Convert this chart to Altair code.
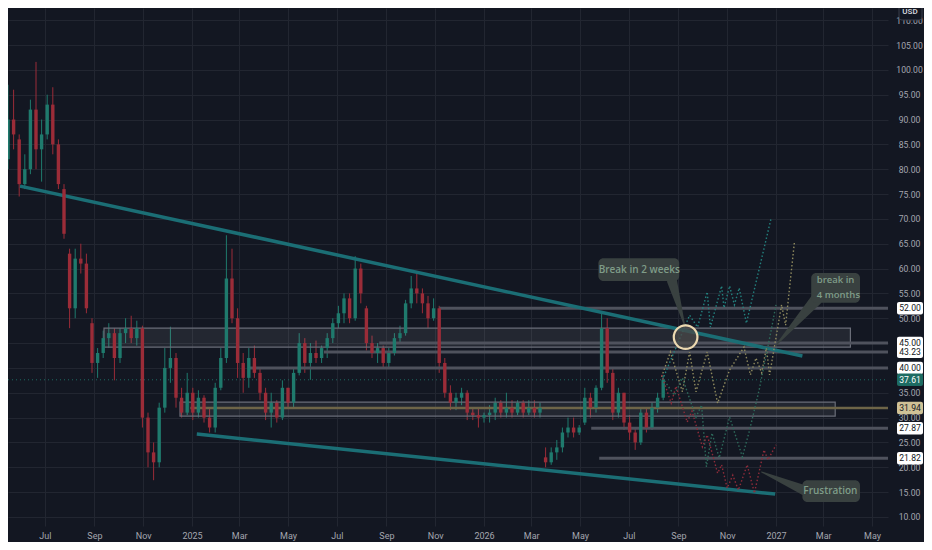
import altair as alt
import pandas as pd

BG = "#131722"
W, H = 880, 518
GRID = "#222631"
AXIS_TXT = "#a3a6af"
UP = "#1f7a6d"
DOWN = "#9b2c38"
TEAL_LINE = "#1b6e75"

# ---------------- weekly candles ----------------
first_week_mid = "2024-05-09"
opens = [84, 82, 90, 86, 77, 80, 92, 84, 87, 93, 85, 76, 63, 52, 62, 61, 49, 41, 43, 46,
         47, 42, 47, 48, 46, 48, 30, 23, 21, 32, 40, 42, 34, 31, 35, 31, 34, 30, 28, 36,
         42, 58, 50, 41, 38, 42, 39, 35, 31, 33, 30, 36, 33, 39, 45, 41, 43, 42, 44, 46,
         49, 51, 54, 50, 60, 52, 45, 43, 44, 41, 43, 46, 47, 53, 56, 55, 53, 50, 52, 41,
         35, 33, 34, 35, 31, 30.5, 30, 30.5, 31, 33, 31, 32, 31, 33, 31, 32, 31, 22, 21, 23,
         24, 27, 28, 27, 29, 34, 32, 36, 48, 39, 31, 35, 29, 27, 25, 31, 28, 32, 34]
highs = [86, 97, 96, 87, 83, 94, 101.6, 90, 95, 96.5, 86, 77, 64, 64, 65, 63, 50, 44, 47.5, 49,
         48, 48, 50, 50.5, 49.5, 48.5, 31, 25, 33, 44, 48.3, 43, 36, 39, 36, 35.5, 34.5, 32, 37, 44,
         66.7, 64, 52, 43, 44, 44.5, 40, 36, 35, 33.5, 37.5, 36, 40, 47, 46, 45, 45.5, 44.5, 47, 50,
         52.5, 55, 55, 62.5, 61, 52.5, 46.5, 45, 44.5, 44, 47, 48.5, 53.7, 58.5, 59, 56, 54.5, 54, 52.5, 42,
         36.5, 35, 36, 35.5, 32, 32, 31, 32.5, 34, 33.5, 35, 33.5, 33.5, 33.5, 33.5, 33.5, 33, 24, 24, 25.5,
         28, 30, 30, 28.5, 36, 35, 36.5, 51, 50, 40, 36, 35, 30.5, 28, 32, 32, 33, 35, 38.5]
lows = [77, 80, 84, 74.5, 76, 79, 80, 77.5, 86, 83, 76, 66, 48, 50, 59, 51, 39, 38, 42, 44,
        37.5, 41, 45, 45, 44.5, 28, 20, 17.4, 20, 31, 37, 32, 30, 30.5, 29.5, 30, 29, 27, 27, 35.5,
        41, 49, 38, 35, 36, 38, 33.5, 29.5, 28, 29, 29.5, 32, 32, 38.5, 39, 37.6, 41, 41, 42, 45,
        48, 49, 49, 49.5, 53, 43.5, 42, 41, 40, 40, 42.5, 45, 46.5, 52, 53, 51, 48, 49.5, 39, 34,
        31.5, 31.5, 32.5, 29.5, 29.5, 28, 29, 29, 29.5, 30, 30, 30, 30.5, 30, 30.5, 30, 30, 20, 20.5, 21.5,
        23, 26, 26, 26.5, 28.5, 30, 31, 35.5, 37, 29.5, 30, 27.5, 25.5, 23.5, 24.5, 27, 27.5, 31, 33.5]
closes = [80, 90, 87, 77, 80, 92, 84, 87, 93, 85, 77, 67, 52, 62, 61, 52, 41, 43, 46, 47,
          42, 47, 48, 46, 48, 30, 23, 21, 32, 40, 42, 34, 31, 35, 31, 34, 30, 28, 36, 42,
          58, 50, 41, 38, 42, 39, 35, 31, 33, 30, 36, 33, 39, 45, 41, 43, 42, 44, 46, 49,
          51, 54, 50, 60, 55, 45, 43, 44, 41, 43, 46, 47, 53, 56, 55, 53, 50, 52, 41, 35,
          33, 34, 35, 31, 30.5, 30, 30.5, 31, 33, 31, 32, 31, 33, 31, 32, 31, 32, 21, 23, 24,
          27, 28, 27, 28, 34, 32, 36, 48, 39, 31, 35, 29, 27, 25, 31, 28, 32, 34, 37.61]

# ---------------- drawings ----------------
zone_start = ["2024-09-13", "2024-12-17"]
zone_end = ["2027-04-04", "2027-03-16"]
zone_top = [48.0, 33.1]
zone_bottom = [44.2, 30.3]

level_prices = [52.00, 45.00, 43.23, 40.00, 27.87, 21.82]
level_starts = ["2025-11-06", "2025-08-23", "2025-06-15", "2025-03-13", "2026-05-15", "2026-05-25"]
tan_level = 31.94
tan_start = "2024-12-30"
last_price = 37.61
far_end = "2027-06-30"

trend_ids = ["upper", "upper", "lower", "lower"]
trend_dates = ["2024-05-31", "2027-02-03", "2025-01-07", "2026-12-31"]
trend_prices = [76.6, 42.4, 26.7, 14.6]

path_teal_dates = ["2026-08-12", "2026-09-15", "2026-09-25", "2026-10-07", "2026-10-11", "2026-10-25",
                   "2026-10-28", "2026-11-04", "2026-11-10", "2026-11-16", "2026-11-25", "2026-12-26"]
path_teal_prices = [37.6, 50.6, 48.2, 55.3, 48.2, 56.5, 52.1, 56.5, 52.7, 56.1, 49.0, 70.2]
path_olive_dates = ["2026-08-11", "2026-08-22", "2026-09-06", "2026-09-15", "2026-09-23", "2026-10-07",
                    "2026-10-20", "2026-11-04", "2026-11-22", "2026-11-30", "2026-12-07", "2026-12-14",
                    "2026-12-20", "2026-12-24", "2027-01-08", "2027-01-13", "2027-01-24"]
path_olive_prices = [38.2, 43.2, 35.2, 43.2, 35.2, 43.2, 32.9, 39.6, 44.2, 38.6, 42.0, 39.0,
                     44.0, 38.6, 52.7, 48.6, 65.3]
path_red_dates = ["2026-08-11", "2026-08-23", "2026-08-29", "2026-09-12", "2026-09-18", "2026-10-01",
                  "2026-10-07", "2026-10-20", "2026-10-25", "2026-11-01", "2026-11-08", "2026-11-15",
                  "2026-11-26", "2026-12-05", "2026-12-17", "2026-12-22", "2027-01-01"]
path_red_prices = [38.6, 32.9, 36.3, 29.1, 31.3, 24.1, 26.5, 18.8, 20.5, 15.8, 18.4, 15.4,
                   20.5, 14.8, 23.5, 21.5, 24.5]
path_green_dates = ["2026-08-12", "2026-08-27", "2026-09-06", "2026-09-23", "2026-09-30", "2026-10-06",
                    "2026-10-13", "2026-10-22", "2026-11-04", "2026-11-20", "2026-11-29", "2026-12-11",
                    "2026-12-26", "2027-01-01"]
path_green_prices = [38.0, 34.5, 38.0, 30.1, 32.5, 20.1, 26.9, 21.9, 30.1, 22.1, 27.5, 35.6, 47.6, 52.7]
path_colors = {"teal": "#23827f", "olive": "#8f8a5e", "green": "#2e6a5b", "red": "#8e2c3a"}

circle_date = "2026-09-10"
circle_price = 46.2

note_box_start = ["2026-05-24", "2027-02-14", "2027-02-03"]
note_box_end = ["2026-09-02", "2027-04-16", "2027-04-16"]
note_box_top = [62.1, 59.1, 17.4]
note_box_bottom = [57.5, 53.1, 13.0]

note_texts = ["Break in 2 weeks", "Frustration", "break in", "4 months"]
note_text_date = ["2026-07-14", "2027-03-10", "2027-02-21", "2027-02-21"]
note_text_price = [59.8, 15.2, 57.6, 54.7]
note_align = ["center", "center", "left", "left"]

pointer_ids = ["a", "a", "b", "b", "c", "c"]
pointer_dates = ["2026-08-24", "2026-09-09", "2027-02-20", "2027-01-01", "2027-02-05", "2026-12-14"]
pointer_prices = [57.5, 48.4, 53.7, 44.6, 15.4, 19.05]
pointer_widths = [10, 1, 12, 1, 10, 1]

tag_prices = [52.00, 45.00, 43.23, 40.00, 27.87, 21.82, 31.94, 37.61]
tag_fill = ["#ffffff", "#ffffff", "#ffffff", "#ffffff", "#ffffff", "#ffffff", "#cfc196", "#1d6b62"]
tag_ink = ["#131722"] * 7 + ["#ffffff"]

tick_months = [(2024, 7), (2024, 9), (2024, 11), (2025, 1), (2025, 3), (2025, 5), (2025, 7),
               (2025, 9), (2025, 11), (2026, 1), (2026, 3), (2026, 5), (2026, 7), (2026, 9),
               (2026, 11), (2027, 1), (2027, 3), (2027, 5)]
price_ticks = list(range(10, 115, 5))

# ---------------- scales / axes ----------------
x_scale = alt.Scale(domain=[alt.DateTime(year=2024, month=5, date=16),
                            alt.DateTime(year=2027, month=5, date=21)])
y_scale = alt.Scale(domain=[8.18, 112.45], nice=False, zero=False)

x_axis = alt.Axis(
    values=[alt.DateTime(year=y, month=m, date=1) for y, m in tick_months],
    labelExpr="month(datum.value) == 0 ? timeFormat(datum.value, '%Y') : timeFormat(datum.value, '%b')",
    ticks=False, domain=False, grid=True, gridColor=GRID, gridWidth=1,
    labelColor=AXIS_TXT, labelFontSize=9, labelFont="Roboto", labelPadding=5, title=None,
)
y_axis = alt.Axis(
    orient="right", values=price_ticks, format=".2f", ticks=False, domain=False,
    grid=True, gridColor=GRID, gridWidth=1, labelColor=AXIS_TXT, labelFontSize=8.6,
    labelFont="Roboto", labelAlign="center", labelPadding=21, title=None,
)


def X(field):
    return alt.X(field, type="temporal", scale=x_scale, axis=x_axis, title=None)


def Y(field):
    return alt.Y(field, type="quantitative", scale=y_scale, axis=y_axis, title=None)


# ---------------- data frames ----------------
candles = pd.DataFrame({
    "date": pd.date_range(first_week_mid, periods=len(opens), freq="7D"),
    "open": opens, "high": highs, "low": lows, "close": closes,
})
candles["dir"] = ["up" if c >= o else "down" for o, c in zip(opens, closes)]

zones = pd.DataFrame({"start": pd.to_datetime(zone_start), "end": pd.to_datetime(zone_end),
                      "top": zone_top, "bottom": zone_bottom})
levels = pd.DataFrame({"start": pd.to_datetime(level_starts), "price": level_prices})
levels["end"] = pd.Timestamp(far_end)
tan = pd.DataFrame({"start": [pd.Timestamp(tan_start)], "end": [pd.Timestamp(far_end)], "price": [tan_level]})
lastp = pd.DataFrame({"price": [last_price]})
trends = pd.DataFrame({"id": trend_ids, "date": pd.to_datetime(trend_dates), "price": trend_prices})

rows = []
for name, ds, ps in [("teal", path_teal_dates, path_teal_prices),
                     ("olive", path_olive_dates, path_olive_prices),
                     ("green", path_green_dates, path_green_prices),
                     ("red", path_red_dates, path_red_prices)]:
    for i, (d, p) in enumerate(zip(ds, ps)):
        rows.append({"path": name, "seq": i, "date": pd.Timestamp(d), "price": p})
paths = pd.DataFrame(rows)

circle = pd.DataFrame({"date": [pd.Timestamp(circle_date)], "price": [circle_price]})
note_boxes = pd.DataFrame({"start": pd.to_datetime(note_box_start), "end": pd.to_datetime(note_box_end),
                           "top": note_box_top, "bottom": note_box_bottom})
notes = pd.DataFrame({"text": note_texts, "tdate": pd.to_datetime(note_text_date),
                      "tprice": note_text_price, "align": note_align})
pointers = pd.DataFrame({"id": pointer_ids, "seq": [0, 1] * 3, "date": pd.to_datetime(pointer_dates),
                         "price": pointer_prices, "w": pointer_widths})
tags = pd.DataFrame({"price": tag_prices, "bg": tag_fill, "ink": tag_ink})
tags["label"] = [f"{p:.2f}" for p in tag_prices]

# ---------------- layers ----------------
zone_layer = alt.Chart(zones).mark_rect(
    fill="#ffffff", fillOpacity=0.07, stroke="#6a6d78", strokeWidth=1.2, clip=True
).encode(x=X("start"), x2="end", y=Y("top"), y2="bottom")

level_layer = alt.Chart(levels).mark_rule(color="#4f525d", strokeWidth=3, clip=True).encode(
    x=X("start"), x2="end", y=Y("price"))

tan_layer = alt.Chart(tan).mark_rule(color="#6e6548", strokeWidth=2.5, clip=True).encode(
    x=X("start"), x2="end", y=Y("price"))

last_layer = alt.Chart(lastp).mark_rule(color="#1d6b62", strokeWidth=1, strokeDash=[1, 3]).encode(
    x=alt.value(0), x2=alt.value(W), y=Y("price"))

trend_layer = alt.Chart(trends).mark_line(color=TEAL_LINE, strokeWidth=3.5, clip=True).encode(
    x=X("date"), y=Y("price"), detail="id:N")

color_enc = alt.Color("dir:N", scale=alt.Scale(domain=["up", "down"], range=[UP, DOWN]), legend=None)

wick_layer = alt.Chart(candles).mark_rule(strokeWidth=1, clip=True).encode(
    x=X("date"), y=Y("low"), y2="high", color=color_enc)

body_layer = alt.Chart(candles).mark_rule(strokeWidth=3.4, clip=True).encode(
    x=X("date"), y=Y("open"), y2="close", color=color_enc)

path_layer = alt.Chart(paths).mark_line(strokeWidth=1.4, strokeDash=[1.5, 2.2], clip=True).encode(
    x=X("date"), y=Y("price"), order="seq:Q",
    stroke=alt.Stroke("path:N", scale=alt.Scale(domain=list(path_colors), range=list(path_colors.values())),
                      legend=None))

circle_layer = alt.Chart(circle).mark_point(
    shape="circle", size=560, filled=True, fill="#4a4a48", fillOpacity=0.75,
    stroke="#ecd9b0", strokeWidth=2.2, opacity=1
).encode(x=X("date"), y=Y("price"))

pointer_layer = alt.Chart(pointers).mark_trail(color="#394140", clip=True).encode(
    x=X("date"), y=Y("price"), detail="id:N", order="seq:Q",
    size=alt.Size("w:Q", scale=alt.Scale(domain=[0, 12], range=[0, 12]), legend=None))

note_box_layer = alt.Chart(note_boxes).mark_rect(fill="#394140", cornerRadius=5, clip=True).encode(
    x=X("start"), x2="end", y=Y("top"), y2="bottom")

note_center = alt.Chart(notes).transform_filter(alt.datum.align == "center").mark_text(
    color="#7f9c88", font="Open Sans", fontWeight=600, fontSize=10, align="center", baseline="middle"
).encode(x=X("tdate"), y=Y("tprice"), text="text:N")

note_left = alt.Chart(notes).transform_filter(alt.datum.align == "left").mark_text(
    color="#7f9c88", font="Open Sans", fontWeight=600, fontSize=9.5, align="left", baseline="middle"
).encode(x=X("tdate"), y=Y("tprice"), text="text:N")

tag_rect = alt.Chart(tags).transform_calculate(
    lo="datum.price - 1.25", hi="datum.price + 1.25"
).mark_rect(cornerRadius=2).encode(
    x=alt.value(W + 9), x2=alt.value(W + 35), y=Y("lo:Q"), y2="hi:Q",
    fill=alt.Fill("bg:N", scale=None))

tag_text = alt.Chart(tags).mark_text(font="Roboto", fontSize=8.6, align="center", baseline="middle").encode(
    x=alt.value(W + 22), y=Y("price"), text="label:N", fill=alt.Fill("ink:N", scale=None))

usd = pd.DataFrame({"t": ["USD"]})
usd_box = alt.Chart(usd).mark_rect(fill=BG, stroke="#3b3f4a", strokeWidth=1, cornerRadius=3).encode(
    x=alt.value(W + 11), x2=alt.value(W + 34), y=alt.value(-4), y2=alt.value(12))
usd_text = alt.Chart(usd).mark_text(color="#d1d4dc", font="Roboto", fontSize=8, fontWeight=600).encode(
    x=alt.value(W + 22), y=alt.value(4), text="t:N")

chart = alt.layer(
    wick_layer, zone_layer, level_layer, tan_layer, last_layer, trend_layer, body_layer,
    path_layer, pointer_layer, circle_layer, note_box_layer, note_center, note_left,
    tag_rect, tag_text, usd_box, usd_text,
).resolve_scale(
    color="independent", fill="independent", stroke="independent", size="independent"
).properties(
    width=W, height=H, background=BG,
    autosize=alt.AutoSizeParams(type="none"),
    padding={"left": 0, "top": 0, "right": 36, "bottom": 16},
).configure_view(stroke=None)

chart.save("out.html", embed_options={"renderer": "svg", "actions": False})
